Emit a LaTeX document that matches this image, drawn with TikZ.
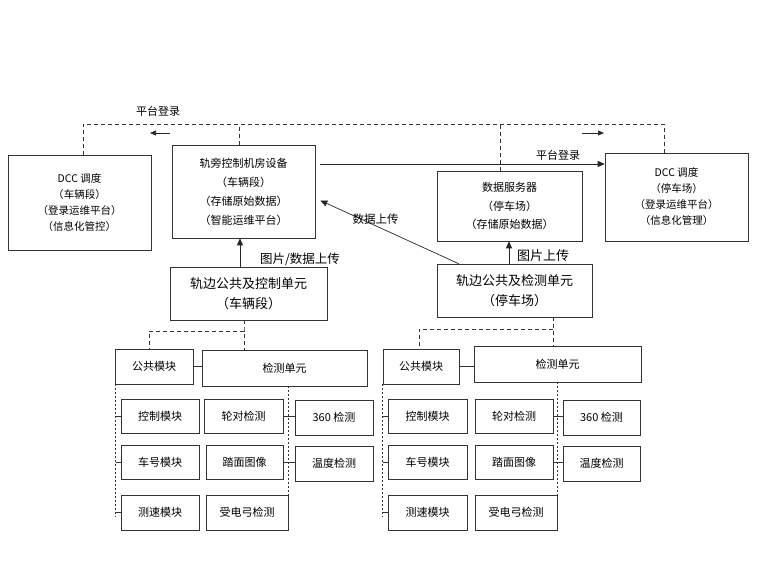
\documentclass[tikz,border=0pt]{standalone}
\usepackage{fontspec}
\setmainfont{Noto Sans CJK SC}
\usetikzlibrary{arrows.meta}

\tikzset{
  box/.style={draw=black!80, line width=0.6pt, align=center, inner sep=0pt,
    font=\fontsize{11}{16}\selectfont},
  dashline/.style={draw=black!80, line width=0.9pt, dash pattern=on 4pt off 3pt},
  spine/.style={draw=black!80, line width=0.6pt, dash pattern=on 2pt off 2pt},
  tick/.style={draw=black!80, line width=0.6pt},
  arr/.style={draw=black!85, line width=0.7pt, -{Triangle[length=7pt,width=6pt]}},
  tag/.style={inner sep=1pt, font=\fontsize{11}{12}\selectfont}
}

\begin{document}
\begin{tikzpicture}[x=1pt, y=-1pt]
    \useasboundingbox (0,0) rectangle (760,570);

    % top row
    \node[box, minimum width=143, minimum height=95, font=\fontsize{10.5}{16}\selectfont] (dccL) at (79.5,202.5)
        {DCC 调度\\（车辆段）\\（登录运维平台）\\（信息化管控）};
    \node[box, minimum width=143, minimum height=93, font=\fontsize{11}{19}\selectfont] (room) at (243.5,191.5)
        {轨旁控制机房设备\\（车辆段）\\（存储原始数据）\\（智能运维平台）};
    \node[box, minimum width=145, minimum height=70, font=\fontsize{11}{18.5}\selectfont] (server) at (509.5,206)
        {数据服务器\\（停车场）\\（存储原始数据）};
    \node[box, minimum width=143, minimum height=88, font=\fontsize{10.5}{16}\selectfont] (dccR) at (676.5,197)
        {DCC 调度\\（停车场）\\（登录运维平台）\\（信息化管理）};

    % trackside units
    \node[box, minimum width=157, minimum height=53, font=\fontsize{13}{20}\selectfont] (unitL) at (248.5,293.5)
        {轨边公共及控制单元\\（车辆段）};
    \node[box, minimum width=155, minimum height=53, font=\fontsize{13}{20}\selectfont] (unitR) at (514.5,290.5)
        {轨边公共及检测单元\\（停车场）};

    % left group
    \node[box, minimum width=78, minimum height=35] (pubL) at (154,366.5) {公共模块};
    \node[box, minimum width=165, minimum height=36] (detL) at (284.5,368) {检测单元};
    \node[box, minimum width=78, minimum height=34] (ctrlL) at (160,416) {控制模块};
    \node[box, minimum width=79, minimum height=34] (wheelL) at (243.5,416) {轮对检测};
    \node[box, minimum width=78, minimum height=35] (vL) at (334,417.5) {360 检测};
    \node[box, minimum width=78, minimum height=34] (carL) at (160,462) {车号模块};
    \node[box, minimum width=77, minimum height=34] (treadL) at (244.5,462) {踏面图像};
    \node[box, minimum width=78, minimum height=35] (tempL) at (334,463.5) {温度检测};
    \node[box, minimum width=78, minimum height=35] (speedL) at (160,512.5) {测速模块};
    \node[box, minimum width=82, minimum height=35] (panL) at (247,512.5) {受电弓检测};

    % right group
    \node[box, minimum width=76, minimum height=35] (pubR) at (421,366.5) {公共模块};
    \node[box, minimum width=167, minimum height=36] (detR) at (557.5,364) {检测单元};
    \node[box, minimum width=79, minimum height=34] (ctrlR) at (427.5,416) {控制模块};
    \node[box, minimum width=78, minimum height=34] (wheelR) at (514,416) {轮对检测};
    \node[box, minimum width=77, minimum height=35] (vR) at (601.5,417.5) {360 检测};
    \node[box, minimum width=79, minimum height=34] (carR) at (427.5,462) {车号模块};
    \node[box, minimum width=78, minimum height=34] (treadR) at (514,462) {踏面图像};
    \node[box, minimum width=77, minimum height=35] (tempR) at (601.5,463.5) {温度检测};
    \node[box, minimum width=79, minimum height=35] (speedR) at (427.5,512.5) {测速模块};
    \node[box, minimum width=82, minimum height=35] (panR) at (516,512.5) {受电弓检测};

    % platform login (dashed bus)
    \coordinate (busL) at (83,124);
    \coordinate (busR) at (664,124);
    \draw[dashline] (dccL.north -| busL) -- (busL) -- (busR) -- (busR |- dccR.north);
    \draw[dashline] ([xshift=-4.5pt]room.north) -- ([xshift=-4.5pt]room.north |- busL);
    \draw[dashline] ([xshift=-9.5pt]server.north) -- ([xshift=-9.5pt]server.north |- busL);
    \node[tag] (loginTop) at (158,111) {平台登录};
    \coordinate (hintLa) at (170,133);
    \coordinate (hintLb) at (150,133);
    \draw[arr, -{Triangle[length=6pt,width=5pt]}] (hintLa) -- (hintLb);
    \coordinate (hintRa) at (582,133);
    \coordinate (hintRb) at (604,133);
    \draw[arr, -{Triangle[length=6pt,width=5pt]}] (hintRa) -- (hintRb);

    % solid login arrow
    \coordinate (loginS) at ([xshift=5pt,yshift=27.5pt]room.east);
    \draw[arr] (loginS) -- (loginS -| dccR.west);
    \node[tag] (loginMid) at (558,155) {平台登录};

    % uploads
    \draw[arr] ([xshift=22pt]unitR.north west) -- node[tag, pos=0.6, above, font=\fontsize{11.5}{12}\selectfont] (upData) {数据上传} ([xshift=5pt,yshift=-9pt]room.east);
    \draw[arr] ([xshift=-8.5pt]unitL.north) -- ([xshift=-8.5pt]unitL.north |- room.south);
    \node[tag, font=\fontsize{12.5}{13}\selectfont] (upPicL) at (300,259) {图片/数据上传};
    \draw[arr] ([xshift=-5.5pt]unitR.north) -- ([xshift=-5.5pt]unitR.north |- server.south);
    \node[tag, font=\fontsize{13}{14}\selectfont] (upPicR) at (543,256) {图片上传};

    % left group links
    \coordinate (forkL) at (244,331);
    \draw[dashline] ([xshift=-4.5pt]unitL.south) -- (forkL) -- (forkL |- detL.north);
    \draw[dashline] (forkL) -| ([xshift=-5pt]pubL.north);
    \draw[tick] (pubL.east) -- (pubL.east -| detL.west);
    \coordinate (spineL) at ([xshift=1pt]pubL.south west);
    \draw[spine] (spineL) -- (spineL |- 0,517);
    \foreach \m in {ctrlL, carL, speedL}
        \draw[tick] (spineL |- \m.west) -- (\m.west);
    \coordinate (spineLd) at ([xshift=3.5pt]detL.south);
    \draw[spine] (spineLd) -- (spineLd |- 0,517);
    \draw[tick] (wheelL.east) -- (wheelL.east -| vL.west);
    \draw[tick] (treadL.east) -- (treadL.east -| tempL.west);

    % right group links
    \coordinate (forkR) at (553,329);
    \draw[dashline] ([xshift=38.5pt]unitR.south) -- (forkR) -- (forkR |- detR.north);
    \draw[dashline] (forkR) -| ([xshift=-2pt]pubR.north);
    \draw[tick] (pubR.east) -- (pubR.east -| detR.west);
    \coordinate (spineR) at (pubR.south west);
    \draw[spine] (spineR) -- (spineR |- 0,517);
    \foreach \m in {ctrlR, carR, speedR}
        \draw[tick] (spineR |- \m.west) -- (\m.west);
    \coordinate (spineRd) at (detR.south);
    \draw[spine] (spineRd) -- (spineRd |- 0,522);
    \draw[tick] (wheelR.east) -- (wheelR.east -| vR.west);
    \draw[tick] (treadR.east) -- (treadR.east -| tempR.west);
\end{tikzpicture}
\end{document}
